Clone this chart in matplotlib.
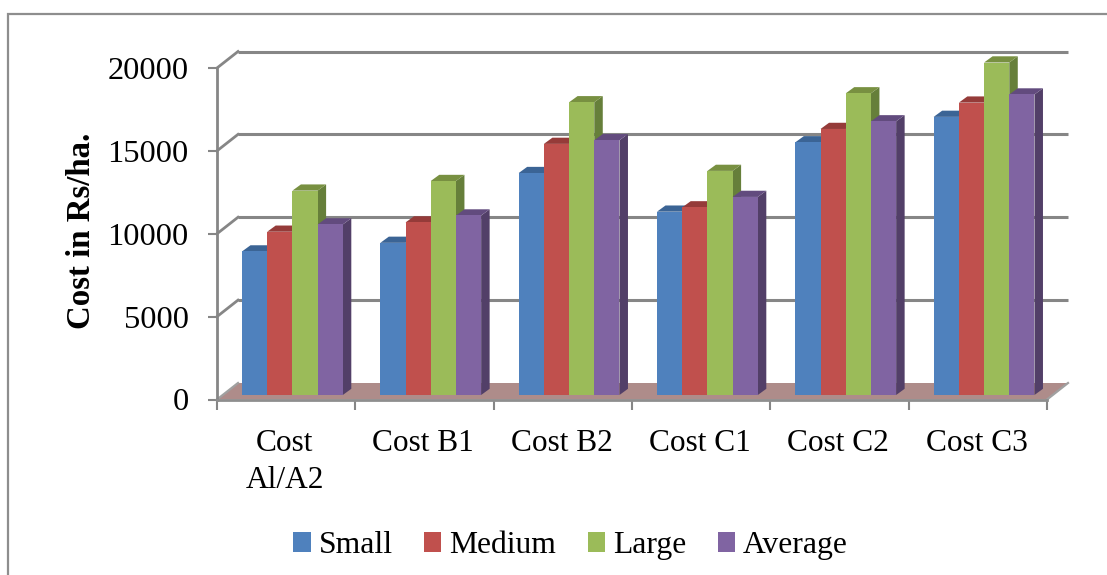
import matplotlib
matplotlib.use("Agg")
import matplotlib.pyplot as plt
from matplotlib.patches import Polygon, Rectangle
from matplotlib.transforms import Affine2D

categories = ["Cost\nAl/A2", "Cost B1", "Cost B2", "Cost C1", "Cost C2", "Cost C3"]
small = [8660, 9180, 13390, 11060, 15245, 16780]
medium = [9850, 10410, 15150, 11320, 16050, 17640]
large = [12330, 12910, 17660, 13520, 18200, 20060]
average = [10290, 10830, 15370, 11950, 16510, 18130]
y_ticks = [0, 5000, 10000, 15000, 20000]
series_names = ["Small", "Medium", "Large", "Average"]
face_colors = ["#4F81BD", "#C0504D", "#9BBB59", "#8064A2"]
top_colors = ["#3B6495", "#953B39", "#789041", "#624B7E"]
side_colors = ["#3A5F8B", "#8C3836", "#667F3A", "#523F68"]

W, H = 1107, 575
GRID = "#868686"
FLOOR = "#AE8C8A"

plt.rcParams["font.family"] = ["Liberation Serif", "DejaVu Serif"]
fig = plt.figure(figsize=(W / 100, H / 100), dpi=100)
fig.patch.set_facecolor("white")

# Front plane of the 3-D box, placed in pixel terms
left, right, bottom, top = 217, 1047, 399.5, 68
ax = fig.add_axes([left / W, 1 - bottom / H, (right - left) / W, (bottom - top) / H])
ax.set_xlim(0, len(categories))
ax.set_ylim(0, 20000)
ax.patch.set_visible(False)
for s in ax.spines.values():
    s.set_visible(False)


def shifted(dx, dy):
    return ax.transData + Affine2D().translate(dx, dy)


DEPTH_X, DEPTH_Y = 21, 16.5
PX_PER_CAT = 138.33
PX_PER_VAL = 0.016575
back = shifted(DEPTH_X, DEPTH_Y)
xmax = len(categories)
depth_cat = DEPTH_X / PX_PER_CAT
depth_val = DEPTH_Y / PX_PER_VAL

# Outer chart frame
fig.add_artist(Rectangle((8 / W, -0.02), 1.1, 1 - 14 / H + 0.02,
                         transform=fig.transFigure, fill=False,
                         edgecolor="#8E8E8E", linewidth=1.6))

# Floor of the box
ax.add_patch(Polygon([(0, 0), (xmax, 0), (xmax + depth_cat, depth_val), (depth_cat, depth_val)],
                     closed=True, facecolor=FLOOR, edgecolor="none", zorder=1, clip_on=False))

# Back-wall gridlines and the diagonals running to the front axis
for t in y_ticks[1:]:
    ax.plot([0, xmax], [t, t], transform=back, color=GRID, lw=2.2, zorder=1.5,
            clip_on=False, solid_capstyle="butt")
    ax.plot([0, depth_cat], [t, t + depth_val], color=GRID, lw=2.0, zorder=1.5, clip_on=False)
ax.plot([xmax, xmax + depth_cat], [0, depth_val], color="#A0A0A0", lw=1.6, zorder=2, clip_on=False)
ax.plot([0, depth_cat], [0, depth_val], color="#A0A0A0", lw=1.6, zorder=2, clip_on=False)

# Front axes
ax.plot([0, 0], [0, 20000], color=GRID, lw=2.0, zorder=6, clip_on=False)
ax.plot([0, xmax], [0, 0], color="#8E8E8E", lw=2.0, zorder=6, clip_on=False)
ax.set_xticks(range(xmax + 1))
ax.set_xticklabels([])
ax.set_yticks(y_ticks)
ax.set_yticklabels([str(t) for t in y_ticks])
ax.tick_params(axis="y", length=6.5, width=1.5, color=GRID, labelsize=23.3, pad=14)
ax.tick_params(axis="x", length=7, width=1.5, color=GRID)

for i, name in enumerate(categories):
    ax.annotate(name, (i + 0.49, 0), xytext=(0, -21), textcoords="offset points",
                ha="center", va="top", fontsize=22.6, linespacing=1.38, annotation_clip=False)

fig.text(82 / W, 1 - 231 / H, "Cost in Rs/ha.", rotation=90, ha="center", va="center",
         fontsize=23.7, fontweight="bold")

# Bars: front face from the data, with top and side faces as offsets of it
BAR_W = 25.2 / PX_PER_CAT
START = 25 / PX_PER_CAT
sx = 8.5 / PX_PER_CAT
sy = 6.2 / PX_PER_VAL
front = shifted(0, 4.5)
for c in range(xmax):
    for j, vals in enumerate([small, medium, large, average]):
        x0 = c + START + j * BAR_W
        x1 = x0 + BAR_W
        v = vals[c]
        z = 3 + 0.1 * j + 0.01 * c
        ax.add_patch(Polygon([(x1, 0), (x1 + sx, sy), (x1 + sx, v + sy), (x1, v)], closed=True,
                             facecolor=side_colors[j], edgecolor="none", transform=front,
                             zorder=z, clip_on=False))
        ax.add_patch(Polygon([(x0, v), (x1, v), (x1 + sx, v + sy), (x0 + sx, v + sy)], closed=True,
                             facecolor=top_colors[j], edgecolor="none", transform=front,
                             zorder=z, clip_on=False))
        ax.bar(x0, v, width=BAR_W, align="edge", color=face_colors[j], edgecolor="none",
               transform=front, zorder=z + 0.05, clip_on=False)

# Legend
handles = [Rectangle((0, 0), 1, 1, facecolor=c, edgecolor="none") for c in face_colors]
fig.legend(handles, series_names, loc="center", bbox_to_anchor=(570.5 / W, 1 - 545.5 / H),
           ncol=4, frameon=False, fontsize=22.8, handlelength=0.54, handleheight=0.57,
           handletextpad=0.25, columnspacing=1.0, borderpad=0)

fig.savefig("out.png", dpi=100)
